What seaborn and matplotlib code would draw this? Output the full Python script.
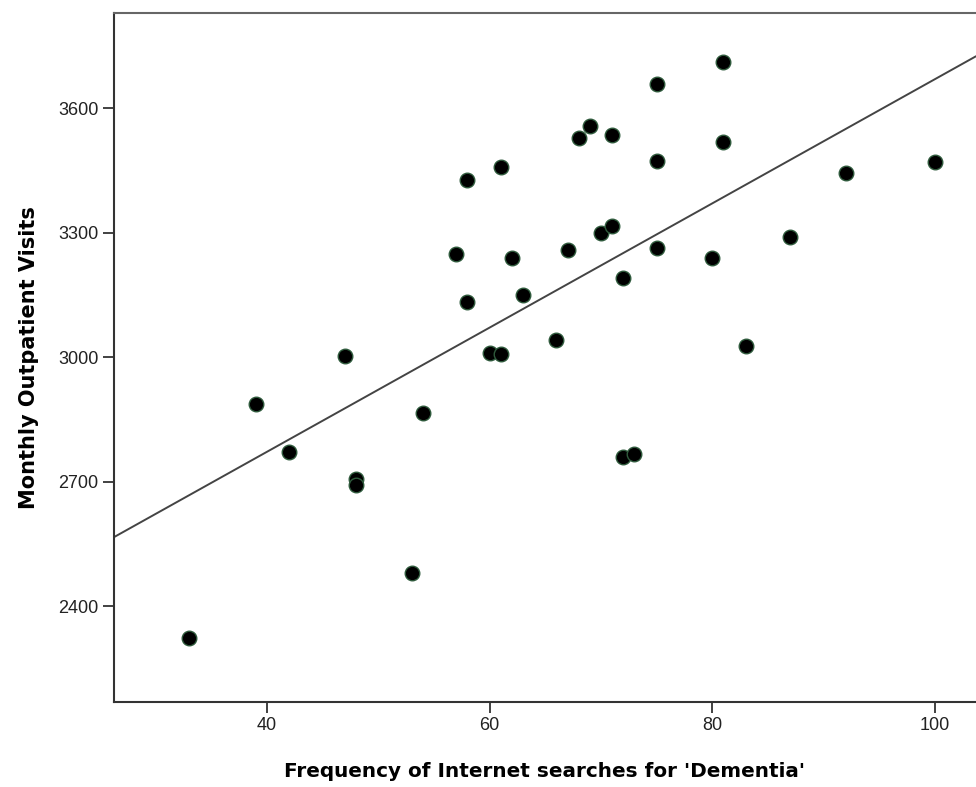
import seaborn as sns
import matplotlib.pyplot as plt
import pandas as pd
import numpy as np

# Frequency of Internet searches for 'Dementia' vs monthly outpatient visits
searches = [33, 39, 42, 47, 48, 48, 53, 54, 57, 58, 58, 60, 61, 61, 62, 63, 66, 67,
            68, 69, 70, 71, 71, 72, 72, 73, 75, 75, 75, 80, 81, 81, 83, 87, 92, 100]
visits = [2325, 2887, 2771, 3002, 2708, 2692, 2480, 2866, 3248, 3428, 3133, 3010,
          3458, 3008, 3240, 3150, 3042, 3258, 3527, 3556, 3299, 3534, 3316, 3190,
          2759, 2766, 3657, 3472, 3263, 3238, 3710, 3518, 3028, 3290, 3444, 3470]

xticks = [40, 60, 80, 100]
yticks = [2400, 2700, 3000, 3300, 3600]

df = pd.DataFrame({"searches": searches, "visits": visits})

sns.set_style("white")
plt.rcParams["font.family"] = ["Liberation Sans", "DejaVu Sans"]

fig = plt.figure(figsize=(9.76, 7.87), dpi=100)
ax = fig.add_axes([0.1168, 0.108, 0.8832, 0.875])

# limits first so the fitted line spans the whole axes
ax.set_xlim(26.25, 103.7)
ax.set_ylim(2170, 3828)

sns.regplot(
    data=df, x="searches", y="visits", ax=ax, ci=None, truncate=False,
    scatter_kws={"s": 110, "color": "black", "edgecolor": "#2f5a3c",
                 "linewidths": 1.0, "alpha": 1},
    line_kws={"color": "#444444", "linewidth": 1.4},
)

ax.set_xlim(26.25, 103.7)
ax.set_ylim(2170, 3828)
ax.set_xticks(xticks)
ax.set_yticks(yticks)
ax.tick_params(axis="both", direction="out", length=8, width=1.3,
               color="#333333", labelsize=13, labelcolor="#222222", pad=3)
ax.tick_params(left=True, bottom=True)

for side in ["left", "bottom"]:
    ax.spines[side].set_color("#333333")
    ax.spines[side].set_linewidth(1.5)
ax.spines["top"].set_color("#666666")
ax.spines["top"].set_linewidth(1.5)
ax.spines["right"].set_visible(False)

ax.set_xlabel("Frequency of Internet searches for 'Dementia'", color="black",
              family="DejaVu Sans", fontweight="bold", fontsize=14.4, labelpad=20)
ax.set_ylabel("Monthly Outpatient Visits", color="black",
              family="DejaVu Sans", fontweight="bold", fontsize=15, labelpad=14)

fig.savefig("out.png", dpi=100)
